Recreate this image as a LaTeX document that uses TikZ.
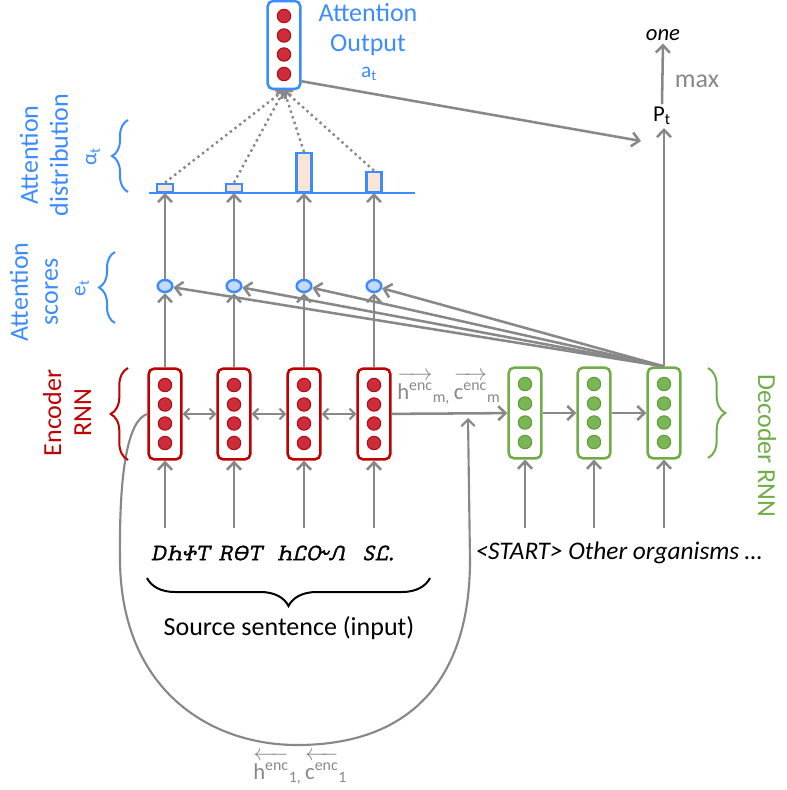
\documentclass[tikz,border=0pt]{standalone}
\usepackage{fontspec}
\setmainfont{Carlito}
\usetikzlibrary{arrows.meta,decorations.pathreplacing,calc,shapes.geometric}
\IfFontExistsTF{Noto Sans Cherokee}{%
  \newfontfamily\chrfont[FakeSlant=0.2,FakeBold=1.8]{Noto Sans Cherokee}%
  \newcommand\cwA{{\chrfont ᎠᏂᏐᎢ}}%
  \newcommand\cwB{{\chrfont ᎡᎾᎢ}}%
  \newcommand\cwC{{\chrfont ᏂᏝᏅᏁ}}%
  \newcommand\cwD{{\chrfont ᏚᏝ.}}%
}{%
  \newcommand\cwA{{\bfseries\itshape DhŧT}}%
  \newcommand\cwB{{\bfseries\itshape RΘT}}%
  \newcommand\cwC{{\bfseries\itshape hLÕΛ}}%
  \newcommand\cwD{{\bfseries\itshape ŞL.}}%
}
\definecolor{encred}{RGB}{192,0,0}
\definecolor{dotred}{RGB}{205,45,58}
\definecolor{dotredb}{RGB}{180,10,20}
\definecolor{decgreen}{RGB}{112,173,71}
\definecolor{dotgreen}{RGB}{122,182,85}
\definecolor{dotgreenb}{RGB}{95,155,55}
\definecolor{attblue}{RGB}{60,140,255}
\definecolor{scorefill}{RGB}{198,218,255}
\definecolor{barfill}{RGB}{251,229,214}
\definecolor{arrgray}{RGB}{136,136,136}
\makeatletter
\newcommand\ovrarr[1]{\vbox{\m@th\ialign{##\crcr\rightarrowfill\crcr\noalign{\kern2pt\nointerlineskip}\hfil#1\hfil\crcr}}}
\newcommand\ovlarr[1]{\vbox{\m@th\ialign{##\crcr\leftarrowfill\crcr\noalign{\kern2pt\nointerlineskip}\hfil#1\hfil\crcr}}}
\makeatother
\tikzset{
  cellbox/.style={draw, rounded corners=4pt, line width=1.9pt, minimum width=24.5pt, minimum height=68pt, inner sep=0pt, fill=white},
  encbox/.style={cellbox, draw=encred},
  decbox/.style={cellbox, draw=decgreen},
  outbox/.style={cellbox, draw=attblue, minimum height=66pt},
  reddot/.style={circle, draw=dotredb, fill=dotred, line width=0.8pt, minimum size=10pt, inner sep=0pt},
  greendot/.style={circle, draw=dotgreenb, fill=dotgreen, line width=0.8pt, minimum size=10pt, inner sep=0pt},
  scorenode/.style={ellipse, draw=attblue, fill=scorefill, line width=1.8pt, minimum width=11pt, minimum height=9pt, inner sep=0pt},
  barnode/.style={rectangle, draw=attblue, fill=barfill, line width=1.8pt, anchor=south, inner sep=0pt},
  arr/.style={draw=arrgray, line width=1.9pt, -{Straight Barb[length=5.5pt,width=10.5pt]}},
  barr/.style={draw=arrgray, line width=1.6pt, {Straight Barb[length=4pt,width=8pt]}-{Straight Barb[length=4pt,width=8pt]}},
  dotarr/.style={draw=arrgray, line width=1.8pt, dash pattern=on 1.8pt off 2.6pt, -{Straight Barb[length=4pt,width=8pt]}},
  looparr/.style={draw=arrgray, line width=1.6pt, -{Straight Barb[length=5pt,width=10pt]}},
  bracedec/.style={decorate, line width=1.5pt, decoration={brace, amplitude=#1, aspect=0.5}},
  bluelab/.style={text=attblue, align=center, inner sep=0pt},
  graylab/.style={text=arrgray, inner sep=0pt, font=\fontsize{17}{19}\selectfont},
  wordlab/.style={inner sep=0pt, font=\fontsize{15}{17}\selectfont},
}
\begin{document}
\begin{tikzpicture}[x=0.75pt,y=-0.75pt, font=\fontsize{19.5}{22.5}\selectfont]
\useasboundingbox (0,0) rectangle (787,790);

% encoder cells
\foreach \n/\x in {1/165,2/234,3/304,4/374}{
  \node[encbox] (e\n) at (\x,414) {};
  \foreach \k/\dy in {1/-29,2/-9.5,3/9.5,4/29}
    \node[reddot] (e\n-\k) at (\x,{414+\dy}) {};
}
% decoder cells
\foreach \n/\x in {1/525,2/594,3/664}{
  \node[decbox] (d\n) at (\x,413) {};
  \foreach \k/\dy in {1/-29,2/-9.5,3/9.5,4/29}
    \node[greendot] (d\n-\k) at (\x,{413+\dy}) {};
}
% attention output
\node[outbox] (ao) at (284,45) {};
\foreach \k/\dy in {1/-29,2/-9.5,3/9.5,4/29}
  \node[reddot] (ao-\k) at (284,{45+\dy}) {};
\node[bluelab] (aol) at (368,30) {Attention\\Output};
\node[bluelab, font=\fontsize{16}{18}\selectfont] (atl) at (369,74) {a\textsubscript{t}};

% attention scores
\foreach \n/\x in {1/165,2/234,3/304,4/374}
  \node[scorenode] (s\n) at (\x,286) {};

% distribution baseline and bars
\coordinate (bl) at (149,193);
\coordinate (br) at (415,193);
\draw[attblue, line width=2.2pt] (bl) -- (br);
\node[barnode, minimum width=12pt, minimum height=6pt] (b1) at (165,193) {};
\node[barnode, minimum width=12pt, minimum height=6pt] (b2) at (234,193) {};
\node[barnode, minimum width=11pt, minimum height=29pt] (b3) at (304,193) {};
\node[barnode, minimum width=11pt, minimum height=15pt] (b4) at (374,193) {};

% P_t, max, one
\node[inner sep=2pt, font=\fontsize{17}{19}\selectfont] (pt) at (662,116) {P\textsubscript{t}};
\node[inner sep=2pt, font=\fontsize{17}{19}\selectfont\itshape] (one) at (663,35) {one};
\node[text=arrgray, inner sep=0pt] (mx) at (697,81) {max};
\draw[arr] (pt.north) -- (one.south);
\coordinate (ptin) at (641,141);
\draw[arr] ($(ao.south east)+(0,-9)$) -- (ptin);
\draw[arr] (d3.north) -- (d3.north |- pt.south);

% arrows for attention
\foreach \n in {1,...,4}{
  \draw[arr] (e\n) -- (s\n);
  \draw[arr] (s\n) -- (b\n.south);
  \draw[arr] (d3.north) -- (s\n);
  \draw[dotarr] (b\n.north) -- (ao.south);
}

% encoder recurrences
\draw[barr] (e1) -- (e2);
\draw[barr] (e2) -- (e3);
\draw[barr] (e3) -- (e4);
\draw[arr] (e4) -- (d1);
\draw[arr] (d1) -- (d2);
\draw[arr] (d2) -- (d3);

% inputs
\foreach \n/\x in {1/165,2/234,3/304,4/374}{
  \coordinate (ie\n) at (\x,528);
  \draw[arr] (ie\n) -- (e\n);
}
\foreach \n/\x in {1/525,2/594,3/664}{
  \coordinate (id\n) at (\x,528);
  \draw[arr] (id\n) -- (d\n);
}
\node[wordlab] (w1) at (180,553) {\cwA};
\node[wordlab] (w2) at (240,553) {\cwB};
\node[wordlab] (w3) at (311,553) {\cwC};
\node[wordlab] (w4) at (378,553) {\cwD};
\node[inner sep=0pt, font=\fontsize{19}{21}\selectfont\itshape] (dw) at (619,553) {<START> Other organisms …};

% source brace
\coordinate (sbl) at (147,578);
\coordinate (sbr) at (430,578);
\draw[bracedec=21pt] (sbr) -- (sbl);
\node[inner sep=0pt] (src) at (289,628) {Source sentence (input)};

% loop from first encoder state
\coordinate (mg) at (468,418);
\draw[looparr] (e1.west) .. controls (128,420) and (119,470) .. (120,560)
  .. controls (121,690) and (210,745) .. (297,745)
  .. controls (410,745) and (470,680) .. (470,560) -- (mg);

% gray state labels
\node[graylab, anchor=base west] (hm) at (397,399)
  {\ovrarr{h\textsuperscript{enc}}\textsubscript{m,}\,\ovrarr{c\textsuperscript{enc}}\textsubscript{m}};
\node[graylab, anchor=base west] (h1) at (253,779)
  {\ovlarr{h\textsuperscript{enc}}\textsubscript{1,}\,\ovlarr{c\textsuperscript{enc}}\textsubscript{1}};

% left labels and braces
\node[bluelab, rotate=90] (adl) at (44,155) {Attention\\distribution};
\node[bluelab, rotate=90, font=\fontsize{16}{18}\selectfont] (alt) at (93,157) {α\textsubscript{t}};
\coordinate (ab1) at (128,192);
\coordinate (ab2) at (128,120);
\draw[attblue, bracedec=12pt] (ab1) -- (ab2);

\node[bluelab, rotate=90] (asl) at (34,292) {Attention\\scores};
\node[bluelab, rotate=90, font=\fontsize{16}{18}\selectfont] (etl) at (82,288) {e\textsubscript{t}};
\coordinate (eb1) at (115,323);
\coordinate (eb2) at (115,252);
\draw[attblue, bracedec=12pt] (eb1) -- (eb2);

\node[text=encred, align=center, inner sep=0pt, rotate=90] (enl) at (67,413) {Encoder\\RNN};
\coordinate (rb1) at (128,460);
\coordinate (rb2) at (128,368);
\draw[encred, bracedec=13pt] (rb1) -- (rb2);

\node[text=decgreen, inner sep=0pt, rotate=-90] (del) at (767,446) {Decoder RNN};
\coordinate (gb1) at (708,368);
\coordinate (gb2) at (708,458);
\draw[decgreen, bracedec=13pt] (gb1) -- (gb2);
\end{tikzpicture}
\end{document}
